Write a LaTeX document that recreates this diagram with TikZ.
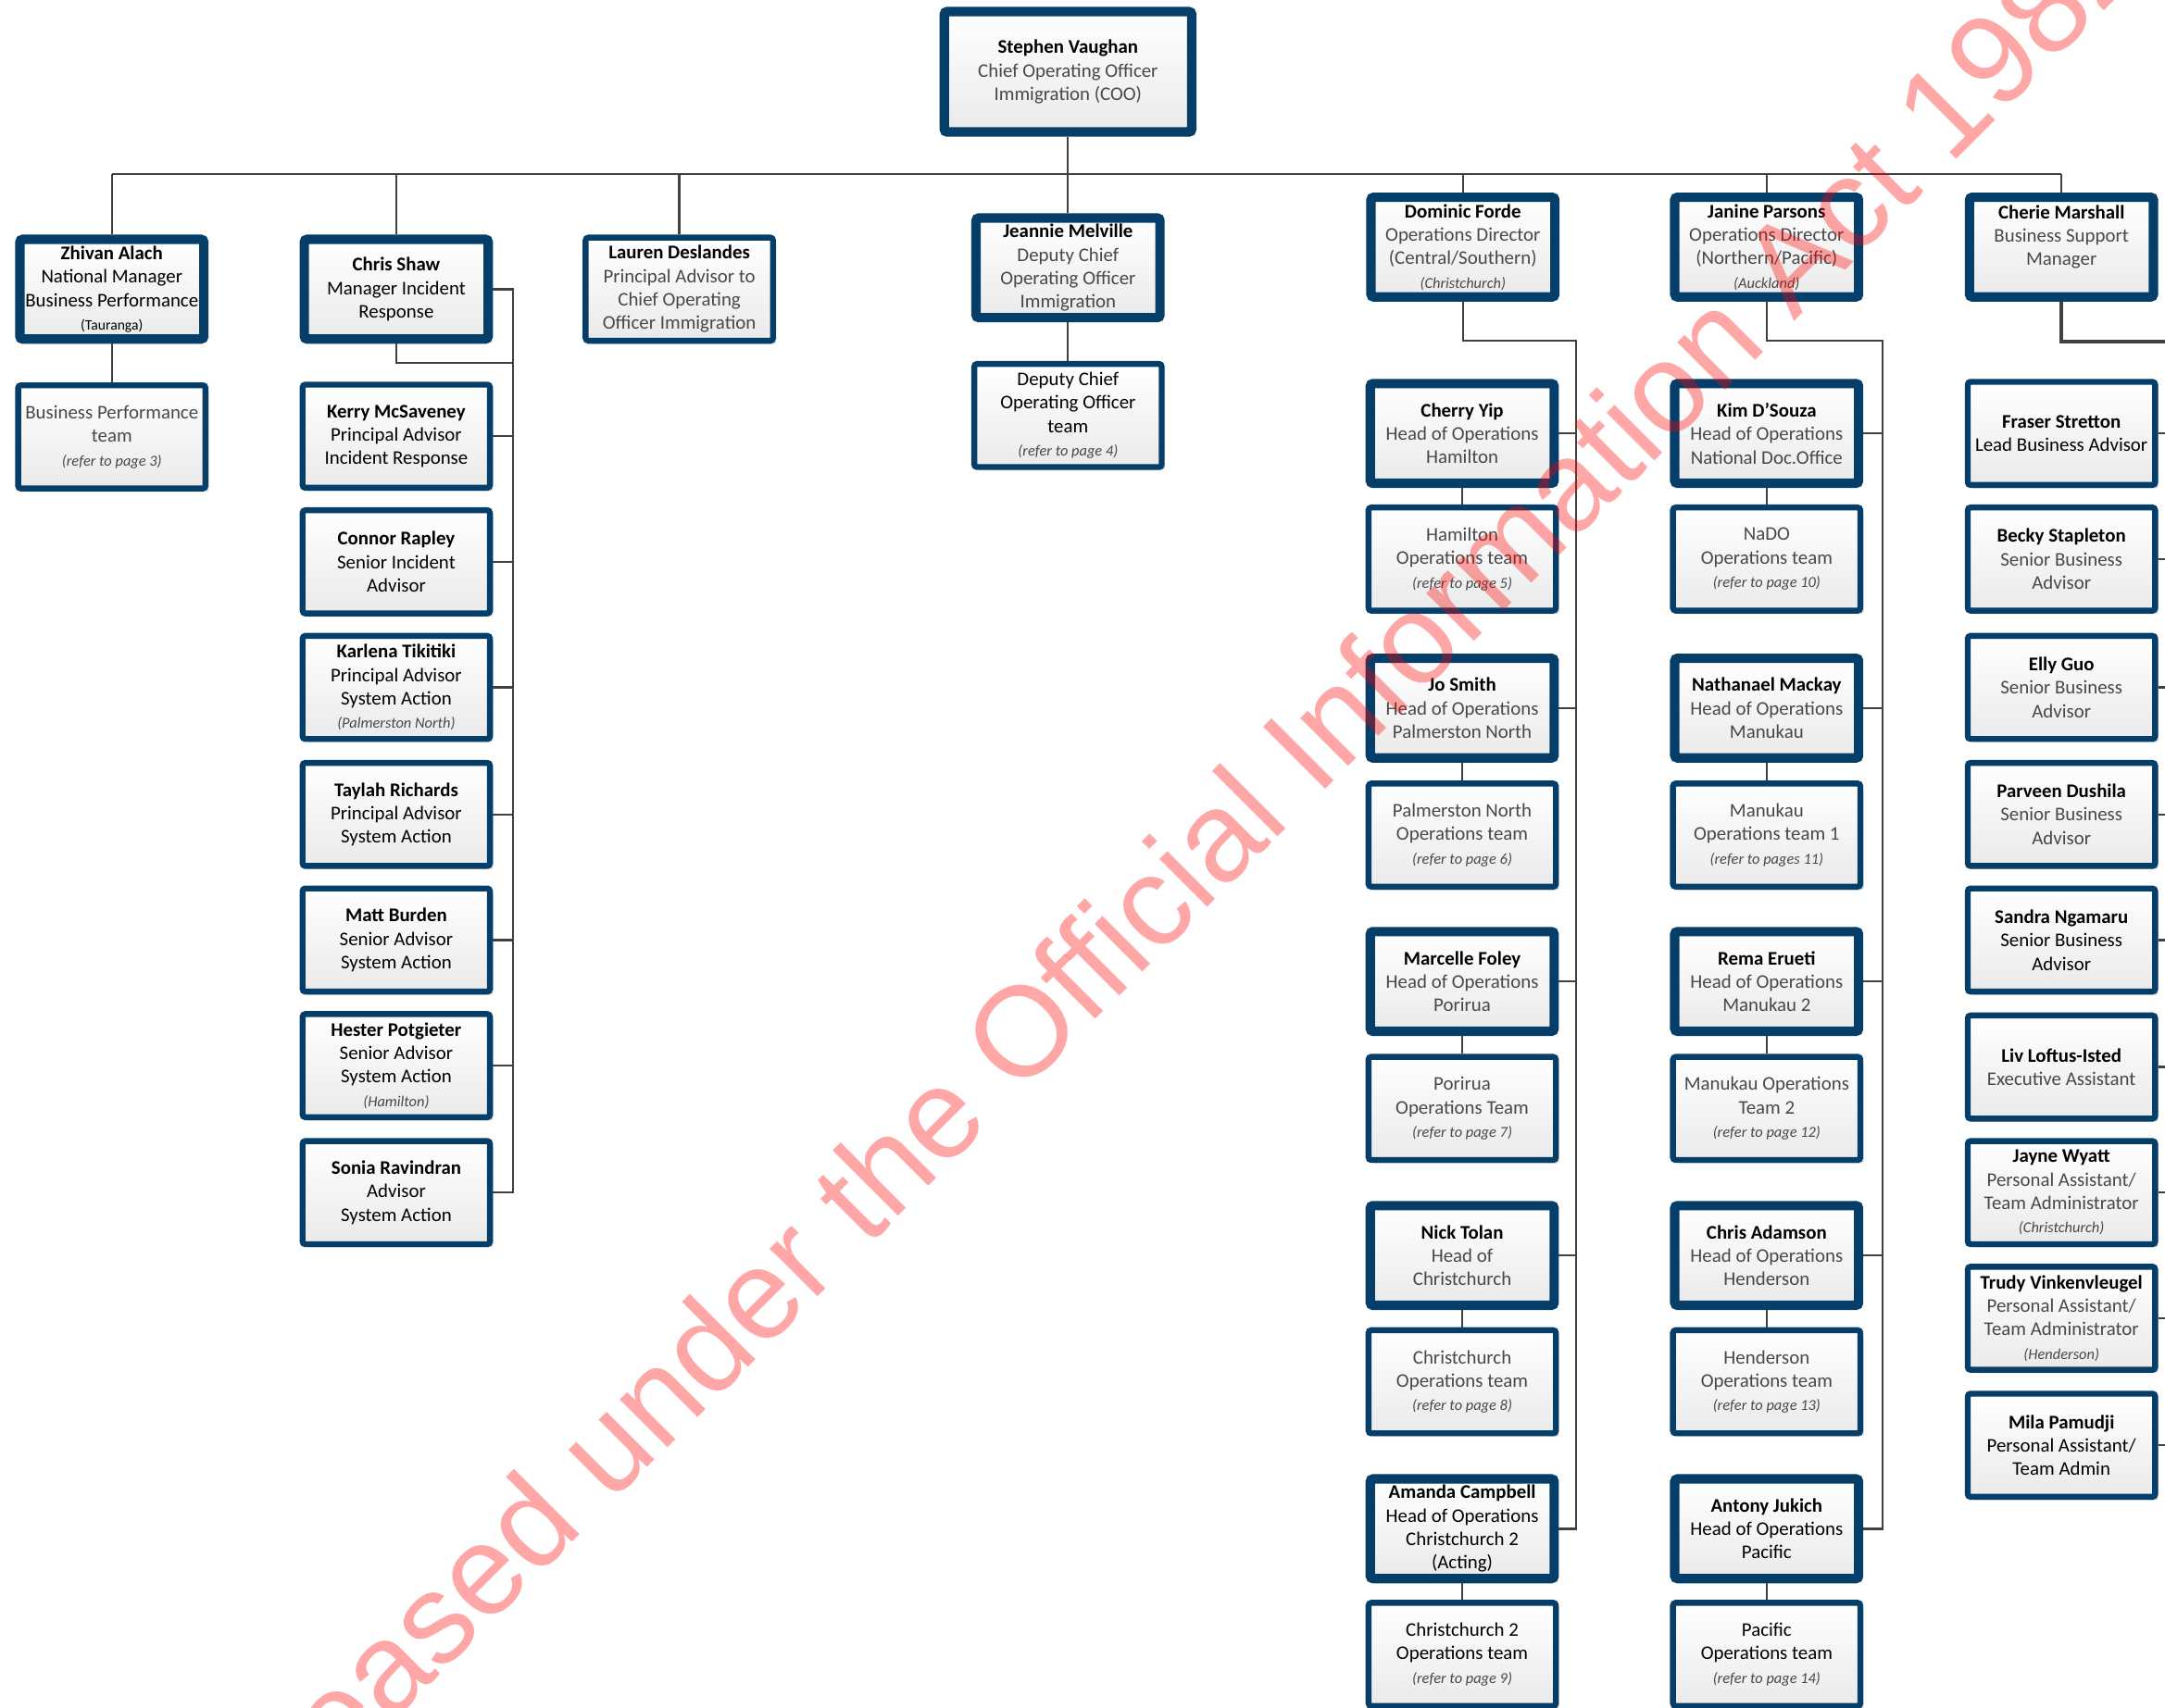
\documentclass[tikz,border=0pt]{standalone}
\usepackage{fontspec}
\setmainfont{Carlito}
\newfontfamily\wmfont{Liberation Sans}
\usetikzlibrary{shadows}
\definecolor{boxblue}{RGB}{6,62,106}
\definecolor{connc}{RGB}{64,64,64}
\definecolor{titlegray}{RGB}{72,72,72}
\definecolor{notegray}{RGB}{72,72,72}
\definecolor{boxbot}{RGB}{234,234,234}
\newcommand\pname[1]{{\bfseries\color{black}#1}}
\newcommand\smnote[1]{{\fontsize{11}{13}\selectfont\itshape\color{notegray}#1}}
\begin{document}
\begin{tikzpicture}[x=1pt,y=-1pt,
  bx/.style={draw=boxblue, rounded corners=2pt, top color=white, bottom color=boxbot,
    inner sep=0pt, align=center, font=\fontsize{14}{17}\selectfont, text=titlegray,
    drop shadow={shadow xshift=2.5pt,shadow yshift=-2.5pt,fill=black,opacity=0.12}},
  thk/.style={bx, line width=6.8pt, minimum width=133.2pt, minimum height=72.2pt},
  thn/.style={bx, line width=4.3pt, minimum width=135.7pt, minimum height=74.7pt},
  dk/.style={text=black},
  conn/.style={draw=connc, line width=1.5pt},
  ]
\useasboundingbox (0,0) rectangle (1568,1237);
\clip (0,0) rectangle (1568,1237);
\fill[white] (0,0) rectangle (1568,1237);

% ---- top
\node[thk, minimum width=179.2pt, minimum height=87.2pt] (sv) at (773.5,52) {\pname{Stephen Vaughan}\\Chief Operating Officer\\Immigration (COO)};

% ---- level 2
\node[thk,dk] (za) at (81,209.5) {\pname{Zhivan Alach}\\National Manager\\Business Performance\\{\fontsize{10.5}{12}\selectfont (Tauranga)}};
\node[thk,dk] (cs) at (287,209.5) {\pname{Chris Shaw}\\Manager Incident\\Response};
\node[thn] (ld) at (492,209.5) {\pname{Lauren Deslandes}\\Principal Advisor to\\Chief Operating\\Officer Immigration};
\node[thk] (jm) at (773.5,194) {\pname{Jeannie Melville}\\Deputy Chief\\Operating Officer\\Immigration};
\node[thk] (df) at (1059.5,179) {\pname{Dominic Forde}\\Operations Director\\(Central/Southern)\\\smnote{(Christchurch)}};
\node[thk] (jp) at (1279.5,179) {\pname{Janine Parsons}\\Operations Director\\(Northern/Pacific)\\\smnote{(Auckland)}};
\node[thk] (cm) at (1493,179) {\pname{Cherie Marshall}\\Business Support\\Manager\\\mbox{}};

% ---- level 3 left
\node[thn] (bpt) at (81,316.5) {Business Performance\\team\\\smnote{(refer to page 3)}};
\node[thn,dk] (dct) at (773.5,301) {Deputy Chief\\Operating Officer\\team\\\smnote{(refer to page 4)}};

% ---- Chris Shaw team
\node[thn,dk] (km) at (287,316) {\pname{Kerry McSaveney}\\Principal Advisor\\Incident Response};
\node[thn,dk] (cr) at (287,407) {\pname{Connor Rapley}\\Senior Incident\\Advisor};
\node[thn,dk] (kt) at (287,498) {\pname{Karlena Tikitiki}\\Principal Advisor\\System Action\\\smnote{(Palmerston North)}};
\node[thn,dk] (tr) at (287,590) {\pname{Taylah Richards}\\Principal Advisor\\System Action};
\node[thn,dk] (mb) at (287,681) {\pname{Matt Burden}\\Senior Advisor\\System Action};
\node[thn,dk] (hp) at (287,772) {\pname{Hester Potgieter}\\Senior Advisor\\System Action\\\smnote{(Hamilton)}};
\node[thn,dk] (sr) at (287,864) {\pname{Sonia Ravindran}\\Advisor\\System Action};

% ---- Dominic Forde column
\node[thk] (cy) at (1059,314) {\pname{Cherry Yip}\\Head of Operations\\Hamilton};
\node[thn] (hot) at (1059,405) {Hamilton\\Operations team\\\smnote{(refer to page 5)}};
\node[thk] (js) at (1059,513) {\pname{Jo Smith}\\Head of Operations\\Palmerston North};
\node[thn] (pnt) at (1059,605) {Palmerston North\\Operations team\\\smnote{(refer to page 6)}};
\node[thk] (mf) at (1059,711) {\pname{Marcelle Foley}\\Head of Operations\\Porirua};
\node[thn] (pot) at (1059,803) {Porirua\\Operations Team\\\smnote{(refer to page 7)}};
\node[thk] (ntl) at (1059,909.5) {\pname{Nick Tolan}\\Head of\\Christchurch};
\node[thn] (cht) at (1059,1001) {Christchurch\\Operations team\\\smnote{(refer to page 8)}};
\node[thk,dk] (ac) at (1059,1107.5) {\pname{Amanda Campbell}\\Head of Operations\\Christchurch 2\\(Acting)};
\node[thn,dk] (ctt) at (1059,1198.5) {Christchurch 2\\Operations team\\\smnote{(refer to page 9)}};

% ---- Janine Parsons column
\node[thk] (kd) at (1279.5,314) {\pname{Kim D’Souza}\\Head of Operations\\National Doc.Office};
\node[thn] (ndt) at (1279.5,405) {NaDO\\Operations team\\\smnote{(refer to page 10)}};
\node[thk] (nmk) at (1279.5,513) {\pname{Nathanael Mackay}\\Head of Operations\\Manukau};
\node[thn] (mko) at (1279.5,605) {Manukau\\Operations team 1\\\smnote{(refer to pages 11)}};
\node[thk] (re) at (1279.5,711) {\pname{Rema Erueti}\\Head of Operations\\Manukau 2};
\node[thn] (mkt) at (1279.5,803) {Manukau Operations\\Team 2\\\smnote{(refer to page 12)}};
\node[thk] (cad) at (1279.5,909.5) {\pname{Chris Adamson}\\Head of Operations\\Henderson};
\node[thn] (het) at (1279.5,1001) {Henderson\\Operations team\\\smnote{(refer to page 13)}};
\node[thk,dk] (aj) at (1279.5,1107.5) {\pname{Antony Jukich}\\Head of Operations\\Pacific};
\node[thn,dk] (pat) at (1279.5,1198.5) {Pacific\\Operations team\\\smnote{(refer to page 14)}};

% ---- Cherie Marshall column
\node[thn,dk] (fs) at (1493,314) {\pname{Fraser Stretton}\\Lead Business Advisor};
\node[thn] (bs) at (1493,405) {\pname{Becky Stapleton}\\Senior Business\\Advisor};
\node[thn] (eg) at (1493,498) {\pname{Elly Guo}\\Senior Business\\Advisor};
\node[thn] (pd) at (1493,590) {\pname{Parveen Dushila}\\Senior Business\\Advisor};
\node[thn,dk] (sn) at (1493,681) {\pname{Sandra Ngamaru}\\Senior Business\\Advisor};
\node[thn] (ll) at (1493,773) {\pname{Liv Loftus-Isted}\\Executive Assistant};
\node[thn] (jw) at (1493,864) {\pname{Jayne Wyatt}\\Personal Assistant/\\Team Administrator\\\smnote{(Christchurch)}};
\node[thn] (tv) at (1493,955) {\pname{Trudy Vinkenvleugel}\\Personal Assistant/\\Team Administrator\\\smnote{(Henderson)}};
\node[thn,dk] (mp) at (1493,1047) {\pname{Mila Pamudji}\\Personal Assistant/\\Team Admin};

% ---- connectors
\coordinate (busL) at (81,126);
\coordinate (busR) at (1493,126);
\draw[conn] (busL) -- (busR);
\draw[conn] (sv.south) -- (jm.north);
\foreach \n in {za,cs,ld,df,jp,cm} \draw[conn] (\n.north) -- (\n.north |- busL);
\draw[conn] (za.south) -- (bpt.north);
\draw[conn] (jm.south) -- (dct.north);

\coordinate (csv) at (371.5,263);
\draw[conn] (cs.south) |- (csv);
\draw[conn] (cs.east) -| (csv);
\draw[conn] (csv) -- (csv |- sr.east) -- (sr.east);
\foreach \n in {km,cr,kt,tr,mb,hp} \draw[conn] (\n.east) -- (\n.east -| csv);

\coordinate (dfv) at (1141.5,247);
\draw[conn] (df.south) |- (dfv) -- (dfv |- ac.east) -- (ac.east);
\foreach \n in {cy,js,mf,ntl} \draw[conn] (\n.east) -- (\n.east -| dfv);
\draw[conn] (cy.south) -- (hot.north);
\draw[conn] (js.south) -- (pnt.north);
\draw[conn] (mf.south) -- (pot.north);
\draw[conn] (ntl.south) -- (cht.north);
\draw[conn] (ac.south) -- (ctt.north);

\coordinate (jpv) at (1363.5,247);
\draw[conn] (jp.south) |- (jpv) -- (jpv |- aj.east) -- (aj.east);
\foreach \n in {kd,nmk,re,cad} \draw[conn] (\n.east) -- (\n.east -| jpv);
\draw[conn] (kd.south) -- (ndt.north);
\draw[conn] (nmk.south) -- (mko.north);
\draw[conn] (re.south) -- (mkt.north);
\draw[conn] (cad.south) -- (het.north);
\draw[conn] (aj.south) -- (pat.north);

\coordinate (cmv) at (1580,247.5);
\draw[conn, line width=3pt] (cm.south) |- (cmv);
\foreach \n in {fs,bs,eg,pd,sn,ll,jw,tv,mp} \draw[conn] (\n.east) -- (\n.east -| cmv);

% ---- watermark
\node[rotate=45, anchor=base west, inner sep=0pt, text=red, opacity=0.35,
  font=\wmfont\fontsize{92.5}{92.5}\selectfont] (wm) at (148,1384)
  {Released under the Official Information Act 1982};
\end{tikzpicture}
\end{document}
